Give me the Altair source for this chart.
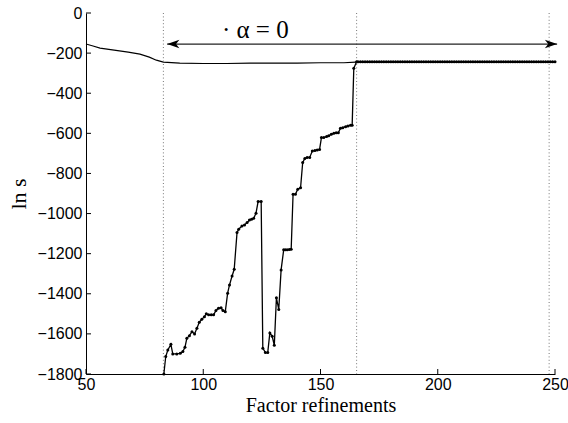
import altair as alt
import pandas as pd

# ---- data ----
upper_x = [50, 53, 56, 62, 68, 73, 77, 80, 83, 90, 100, 110, 120, 130, 140, 150, 160, 165, 200, 250]
upper_y = [-155, -165, -175, -185, -195, -205, -220, -235, -245, -250, -252, -252, -250, -250, -250, -248, -248, -245, -245, -245]

lower_x = [83.2, 84.0, 84.9, 86.2, 87.0, 88.7, 90.2, 91.3, 92.2, 93.0, 94.1, 95.2, 96.3, 97.3, 98.3,
           99.4, 100.5, 101.3, 102.3, 103.4, 104.4, 105.4, 106.5, 107.6, 108.4, 109.4, 110.4, 111.2,
           112.3, 113.2, 114.4, 115.1, 116.5, 117.6, 118.7, 119.7, 120.6, 121.5, 122.5, 123.4, 124.7,
           125.4, 126.5, 127.5, 128.4, 129.4, 130.3, 131.2, 132.2, 133.2, 134.3, 135.0, 135.8, 136.7,
           137.5, 138.3, 139.3, 140.3, 141.5, 142.4, 143.3, 144.3, 145.4, 146.5, 147.6, 148.6, 149.6,
           150.4, 151.4, 152.6, 153.5, 154.6, 155.7, 156.7, 157.6, 158.5, 159.5, 160.7, 161.7, 162.8,
           163.5, 164.2, 165.4]
lower_y = [-1800, -1713, -1680, -1652, -1700, -1700, -1697, -1688, -1667, -1622, -1609, -1589, -1600,
           -1572, -1542, -1527, -1514, -1500, -1505, -1505, -1505, -1484, -1472, -1470, -1484, -1489,
           -1397, -1356, -1311, -1278, -1095, -1078, -1062, -1057, -1045, -1032, -1028, -1024, -998,
           -940, -940, -1671, -1693, -1693, -1595, -1612, -1657, -1420, -1478, -1281, -1181, -1181,
           -1181, -1179, -1178, -904, -904, -879, -871, -746, -725, -720, -720, -688, -686, -683, -680,
           -621, -621, -616, -612, -605, -600, -597, -597, -575, -572, -567, -563, -560, -560, -276, -243]
tail_x = list(range(166, 251))
tail_y = [-243, -243, -243, -243, -243, -243, -243, -243, -243, -243, -243, -243, -243, -243, -243,
          -243, -243, -243, -243, -243, -243, -243, -243, -243, -243, -243, -243, -243, -243, -243,
          -243, -243, -243, -243, -243, -243, -243, -243, -243, -243, -243, -243, -243, -243, -243,
          -243, -243, -243, -243, -243, -243, -243, -243, -243, -243, -243, -243, -243, -243, -243,
          -243, -243, -243, -243, -243, -243, -243, -243, -243, -243, -243, -243, -243, -243, -243,
          -243, -243, -243, -243, -243, -243, -243, -243, -243, -243]

vlines_x = [83, 165.4, 247.5]
arrow_x_start = 84.6
arrow_x_end = 250.9
arrow_y = -155
label_text = "· α = 0"
label_x = 122.2
label_y = -85

x_ticks = [50, 100, 150, 200, 250]
y_ticks = [-1800, -1600, -1400, -1200, -1000, -800, -600, -400, -200, 0]

W, H = 469, 361

xs = alt.Scale(domain=[50, 250], nice=False, zero=False)
ys = alt.Scale(domain=[-1800, 0], nice=False, zero=False)

LABEL_FONT = "Liberation Sans"
SERIF = "Liberation Serif"

upper_df = pd.DataFrame({"x": upper_x, "y": upper_y})
lower_df = pd.DataFrame({"x": lower_x + tail_x, "y": lower_y + tail_y})
vl_df = pd.DataFrame({"x": vlines_x})
arrow_df = pd.DataFrame({"x": [arrow_x_start], "x2": [arrow_x_end], "y": [arrow_y]})
head_df = pd.DataFrame({"x": [arrow_x_start, arrow_x_end], "y": [arrow_y, arrow_y],
                        "side": ["left", "right"]})
text_df = pd.DataFrame({"x": [label_x], "y": [label_y], "t": [label_text]})
xt_df = pd.DataFrame({"v": x_ticks})
yt_df = pd.DataFrame({"v": y_ticks})

x_axis = alt.Axis(values=x_ticks, format="d", grid=False, ticks=False, labelFont=LABEL_FONT,
                  labelFontSize=16, labelColor="black", domainColor="black", labelPadding=2,
                  labelFlush=False, labelOverlap=False,
                  title="Factor refinements", titleFont=SERIF, titleFontSize=20,
                  titleFontWeight="normal", titleColor="black", titlePadding=3)
y_axis = alt.Axis(values=y_ticks, format="d", grid=False, ticks=False, labelFont=LABEL_FONT,
                  labelFontSize=16, labelColor="black", domainColor="black", labelPadding=4,
                  labelFlush=False, labelOverlap=False,
                  title="ln s", titleFont=SERIF, titleFontSize=22, titleFontWeight="normal",
                  titleColor="black", titlePadding=7)

base_axes = alt.Chart(upper_df).mark_line(color="black", strokeWidth=1.1).encode(
    x=alt.X("x:Q", scale=xs, axis=x_axis),
    y=alt.Y("y:Q", scale=ys, axis=y_axis),
)

vlines = alt.Chart(vl_df).mark_rule(color="#777777", strokeDash=[1, 2.4], strokeWidth=1).encode(
    x=alt.X("x:Q", scale=xs),
    y=alt.value(0), y2=alt.value(H),
)

lower = alt.Chart(lower_df).mark_line(
    color="black", strokeWidth=1.3,
    point=alt.OverlayMarkDef(filled=True, color="black", size=9),
).encode(
    x=alt.X("x:Q", scale=xs),
    y=alt.Y("y:Q", scale=ys),
)

arrow_line = alt.Chart(arrow_df).mark_rule(color="#222222", strokeWidth=1.2).encode(
    x=alt.X("x:Q", scale=xs), x2="x2:Q", y=alt.Y("y:Q", scale=ys),
)

left_head = alt.Chart(head_df).transform_filter(alt.datum.side == "left").mark_point(
    shape="M0,0 L2,-0.7 L1.45,0 L2,0.7 Z", size=150, filled=True, color="black", opacity=1
).encode(x=alt.X("x:Q", scale=xs), y=alt.Y("y:Q", scale=ys))

right_head = alt.Chart(head_df).transform_filter(alt.datum.side == "right").mark_point(
    shape="M0,0 L-2,-0.7 L-1.45,0 L-2,0.7 Z", size=150, filled=True, color="black", opacity=1
).encode(x=alt.X("x:Q", scale=xs), y=alt.Y("y:Q", scale=ys))

label = alt.Chart(text_df).mark_text(font=SERIF, fontSize=25, color="black", align="center",
                                     baseline="middle").encode(
    x=alt.X("x:Q", scale=xs), y=alt.Y("y:Q", scale=ys), text="t:N")

xticks = alt.Chart(xt_df).mark_rule(color="black", strokeWidth=1).encode(
    x=alt.X("v:Q", scale=xs), y=alt.value(H), y2=alt.value(H - 5))
yticks = alt.Chart(yt_df).mark_rule(color="black", strokeWidth=1).encode(
    y=alt.Y("v:Q", scale=ys), x=alt.value(0), x2=alt.value(5))

chart = alt.layer(
    base_axes, vlines, lower, arrow_line, left_head, right_head, label, xticks, yticks
).properties(
    width=W, height=H,
    autosize=alt.AutoSizeParams(type="none"),
    padding={"left": 86, "top": 13, "right": 13, "bottom": 49},
    background="white",
).configure_view(stroke=None)

chart.save("out.html", embed_options={"renderer": "svg", "actions": False})
